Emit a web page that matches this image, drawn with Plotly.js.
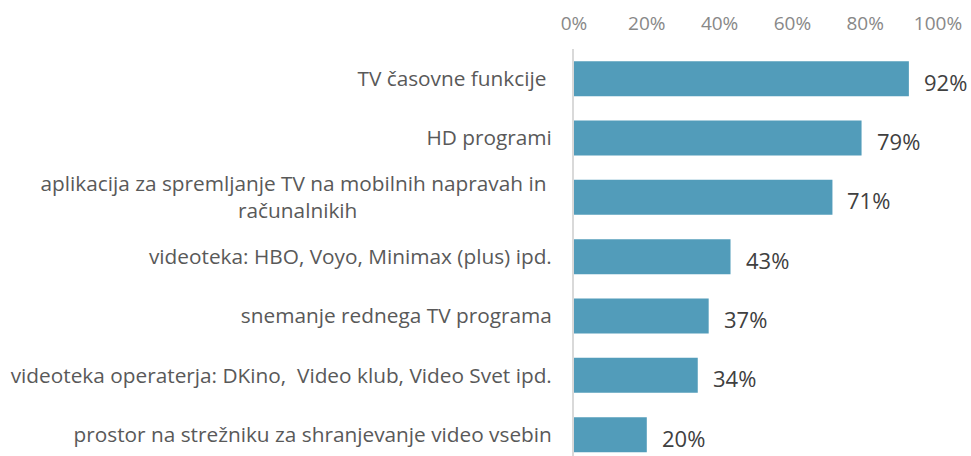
<!DOCTYPE html>
<html>
<head>
<meta charset="utf-8">
<script src="https://cdn.plot.ly/plotly-3.0.1.min.js"></script>
<style>html,body{margin:0;padding:0;background:#fff;}#chart{width:971px;height:456px;}</style>
</head>
<body>
<div id="chart"></div>
<script>
const categories = [
  "TV časovne funkcije",
  "HD programi",
  "aplikacija za spremljanje TV na mobilnih napravah in računalnikih",
  "videoteka: HBO, Voyo, Minimax (plus) ipd.",
  "snemanje rednega TV programa",
  "videoteka operaterja: DKino,  Video klub, Video Svet ipd.",
  "prostor na strežniku za shranjevanje video vsebin"
];
const categoryLabels = [
  "TV časovne funkcije&nbsp;",
  "HD programi",
  "aplikacija za spremljanje TV na mobilnih napravah in&nbsp;" + "<br>računalnikih" + "&nbsp;".repeat(36),
  "videoteka: HBO, Voyo, Minimax (plus) ipd.",
  "snemanje rednega TV programa",
  "videoteka operaterja: DKino,&nbsp; Video klub, Video Svet ipd.",
  "prostor na strežniku za shranjevanje video vsebin"
];
const values = [0.92, 0.79, 0.71, 0.43, 0.37, 0.34, 0.20];
const valueLabels = ["92%", "79%", "71%", "43%", "37%", "34%", "20%"];
const xTickVals = [0, 0.2, 0.4, 0.6, 0.8, 1.0];
const xTickText = ["0%", "20%", "40%", "60%", "80%", "100%"];

const FONT = "'Open Sans', sans-serif";

const trace = {
  type: "bar",
  orientation: "h",
  x: values,
  y: categories,
  marker: {color: "#529cba", line: {width: 0}},
  hoverinfo: "none"
};

const annotations = values.map((v, i) => ({
  x: v, y: categories[i], xref: "x", yref: "y",
  text: valueLabels[i], showarrow: false,
  xanchor: "left", yanchor: "middle", xshift: 13, yshift: -3,
  font: {family: FONT, size: 22, color: "#404040"}
}));

const layout = {
  width: 971, height: 456,
  margin: {l: 574, r: 33, t: 49, b: 0, pad: 0},
  paper_bgcolor: "#ffffff", plot_bgcolor: "#ffffff",
  showlegend: false,
  bargap: 0.41,
  font: {family: FONT, color: "#404040"},
  xaxis: {
    side: "top",
    range: [0, 1],
    tickvals: xTickVals, ticktext: xTickText,
    showgrid: false, zeroline: false, showline: false,
    ticks: "", ticklabelstandoff: 14,
    tickfont: {family: FONT, size: 19, color: "#888888"},
    fixedrange: true
  },
  yaxis: {
    type: "category",
    range: [6.36, -0.5],
    tickvals: categories, ticktext: categoryLabels,
    showgrid: false, zeroline: false,
    showline: true, linecolor: "#d9d9d9", linewidth: 2,
    ticks: "", ticklabelstandoff: 16,
    tickfont: {family: FONT, size: 20.8, color: "#595959"},
    fixedrange: true
  },
  annotations: annotations
};

Plotly.newPlot("chart", [trace], layout, {displayModeBar: false, staticPlot: true});
</script>
</body>
</html>
